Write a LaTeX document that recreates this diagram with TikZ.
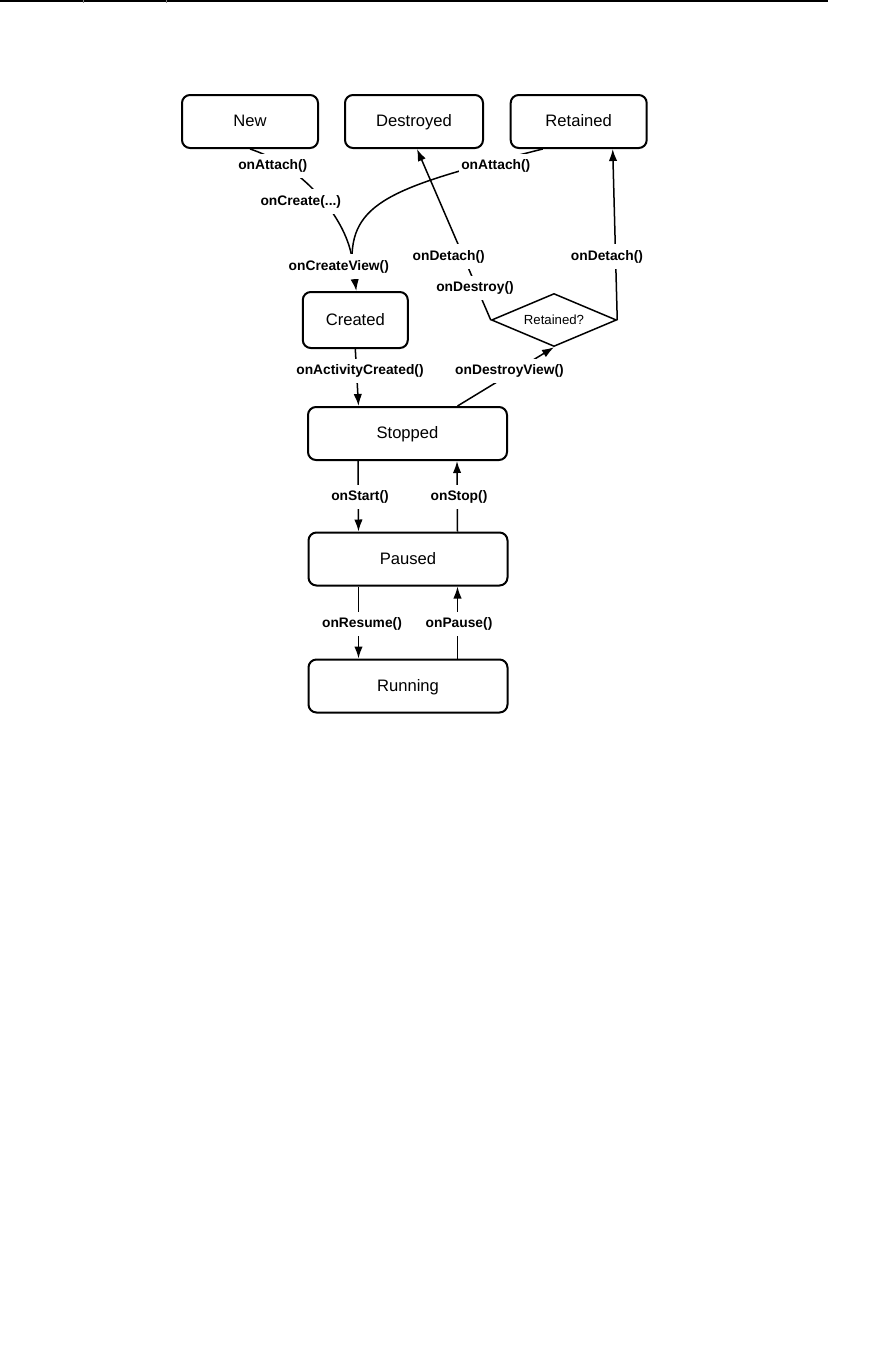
\documentclass[tikz,border=0pt]{standalone}
\usepackage{fontspec}
\setmainfont{Liberation Sans}
\usetikzlibrary{arrows.meta,shapes.geometric}

\begin{document}
\begin{tikzpicture}[x=0.5pt,y=-0.5pt,
    state/.style={draw,line width=1pt,rounded corners=4pt,minimum height=26.5pt,inner sep=0pt,text height=0.72em,text depth=0.2em,font=\fontsize{8.3}{10}\selectfont},
    event/.style={fill=white,inner xsep=1pt,inner ysep=3pt,font=\fontsize{6.9}{8}\selectfont\bfseries},
    trans/.style={line width=0.75pt,-{Latex[length=6pt,width=4.2pt]}},
    link/.style={line width=0.75pt}]
    \useasboundingbox (0,0) rectangle (882,1350);

    % Page rule
    \draw[line width=0.8pt] (0,0.8) -- (828,0.8);
    \draw[gray,line width=0.3pt] (83,0) -- (83,3);
    \draw[gray,line width=0.3pt] (166,0) -- (166,3);

    % States
    \node[state,minimum width=68pt] (new) at (250,121.5) {New};
    \node[state,minimum width=69pt] (destroyed) at (414,121.5) {Destroyed};
    \node[state,minimum width=68pt] (retained) at (578.7,121.5) {Retained};
    \node[state,minimum width=52.5pt,minimum height=28pt] (created) at (355.3,320) {Created};
    \node[state,minimum width=99.5pt] (stopped) at (407.5,433.5) {Stopped};
    \node[state,minimum width=99.5pt] (paused) at (408,559) {Paused};
    \node[state,minimum width=99.5pt] (running) at (408,686) {Running};
    \node[draw,line width=0.75pt,diamond,aspect=2.36,minimum width=62.5pt,minimum height=26.5pt,inner sep=0pt,font=\fontsize{6.6}{8}\selectfont] (check) at (554,320) {Retained?};

    % Creation paths
    \coordinate (join) at (352,258);
    \draw[link] (new.south) .. controls (300,165) and (345,215) .. (join);
    \draw[link] ([xshift=-18pt]retained.south) .. controls (400,185) and (352,200) .. (join);
    \draw[trans] (join) -- ([xshift=0.5pt]created.north);
    \draw[trans] (created.south) -- ([xshift=-24.5pt]stopped.north);

    % Teardown paths
    \draw[trans] ([xshift=25pt]stopped.north) -- (check.south);
    \draw[trans] (check.west) -- ([xshift=1.5pt]destroyed.south);
    \draw[trans] (check.east) -- ([xshift=17pt]retained.south);

    % Running cycle
    \draw[trans] ([xshift=-24.75pt]stopped.south) -- ([xshift=-24.75pt]paused.north);
    \draw[trans] ([xshift=24.75pt]paused.north) -- ([xshift=24.75pt]stopped.south);
    \draw[trans] ([xshift=-24.75pt]paused.south) -- ([xshift=-24.75pt]running.north);
    \draw[trans] ([xshift=24.75pt]running.north) -- ([xshift=24.75pt]paused.south);

    % Labels
    \node[event] (attachnew) at (272.8,166) {onAttach()};
    \node[event] (create) at (300.8,201.7) {onCreate(...)};
    \node[event] (createview) at (338.8,266.7) {onCreateView()};
    \node[event] (attachret) at (495.8,166) {onAttach()};
    \node[event] (detachdes) at (448.7,256.7) {onDetach()};
    \node[event] (destroy) at (475,288) {onDestroy()};
    \node[event] (detachret) at (607,256.7) {onDetach()};
    \node[event] (actcreated) at (360,371) {onActivityCreated()};
    \node[event] (destroyview) at (509.5,371) {onDestroyView()};
    \node[event] (start) at (360,497) {onStart()};
    \node[event] (stop) at (459,497) {onStop()};
    \node[event] (resume) at (362,624) {onResume()};
    \node[event] (pause) at (459,624) {onPause()};
\end{tikzpicture}
\end{document}
